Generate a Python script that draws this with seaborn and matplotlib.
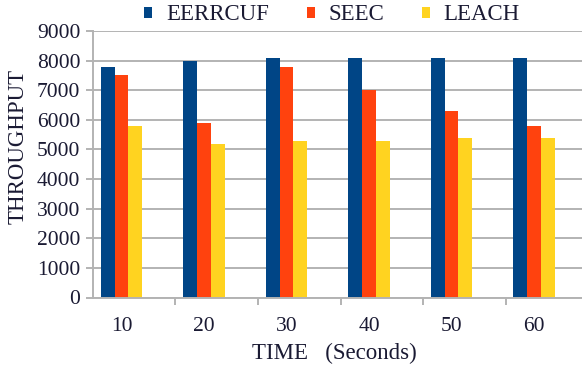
import pandas as pd
import matplotlib
matplotlib.use('Agg')
import matplotlib.pyplot as plt
import seaborn as sns

# Datos
tiempos = ['10', '20', '30', '40', '50', '60']
eerrcuf = [7800, 8000, 8100, 8100, 8100, 8100]
seec = [7500, 5900, 7800, 7000, 6300, 5800]
leach = [5800, 5200, 5300, 5300, 5400, 5400]
protocolos = ['EERRCUF', 'SEEC', 'LEACH']
colores = ['#004586', '#ff420e', '#ffd320']

df = pd.DataFrame({
    'tiempo': tiempos * 3,
    'throughput': eerrcuf + seec + leach,
    'protocolo': [p for p in protocolos for _ in tiempos],
})

sns.set_theme(style='white')
plt.rcParams['font.family'] = ['Liberation Serif', 'DejaVu Serif']
color_texto = '#1a1a33'
color_gris = '#b3b3b3'

fig = plt.figure(figsize=(5.82, 3.68), dpi=100)
ax = fig.add_axes([93 / 582, 1 - 297.5 / 368, 495 / 582, (297.5 - 31) / 368])

sns.barplot(data=df, x='tiempo', y='throughput', hue='protocolo',
            palette=colores, width=0.5, saturation=1, gap=0,
            linewidth=0, ax=ax)

ax.set_ylim(0, 9000)
ax.set_yticks(range(0, 9001, 1000))
ax.set_xlim(-0.345, 5.655)
ax.yaxis.grid(True, color=color_gris, linewidth=1.4)
ax.set_axisbelow(True)

for lado in ['top', 'right']:
    ax.spines[lado].set_visible(False)
for lado in ['left', 'bottom']:
    ax.spines[lado].set_color(color_gris)
    ax.spines[lado].set_linewidth(1.4)

# marcas entre categorias en el eje x
ax.set_xticks([i - 0.345 for i in range(1, 6)], minor=True)
ax.tick_params(axis='x', which='minor', bottom=True, length=5, width=1.4, color=color_gris)
ax.tick_params(axis='x', which='major', length=0, pad=14, labelsize=15.5, labelcolor=color_texto)
ax.tick_params(axis='y', left=True, length=5, width=1.4, color=color_gris, pad=4,
               labelsize=15.5, labelcolor=color_texto)

ax.set_xlabel('TIME   (Seconds)', fontsize=16.5, color=color_texto)
ax.set_ylabel('THROUGHPUT', fontsize=16.5, color=color_texto)
ax.xaxis.set_label_coords(0.487, -0.17)
ax.yaxis.set_label_coords(-0.131, 0.567)

handles, labels = ax.get_legend_handles_labels()
ax.legend(handles, labels, loc='center', bbox_to_anchor=(332 / 582, 1 - 15 / 368),
          bbox_transform=fig.transFigure, ncol=3, frameon=False, fontsize=16.5,
          handlelength=0.35, handleheight=0.35, handletextpad=0.6, columnspacing=1.65,
          labelcolor=color_texto, borderpad=0)

fig.savefig('out.png', dpi=100)
